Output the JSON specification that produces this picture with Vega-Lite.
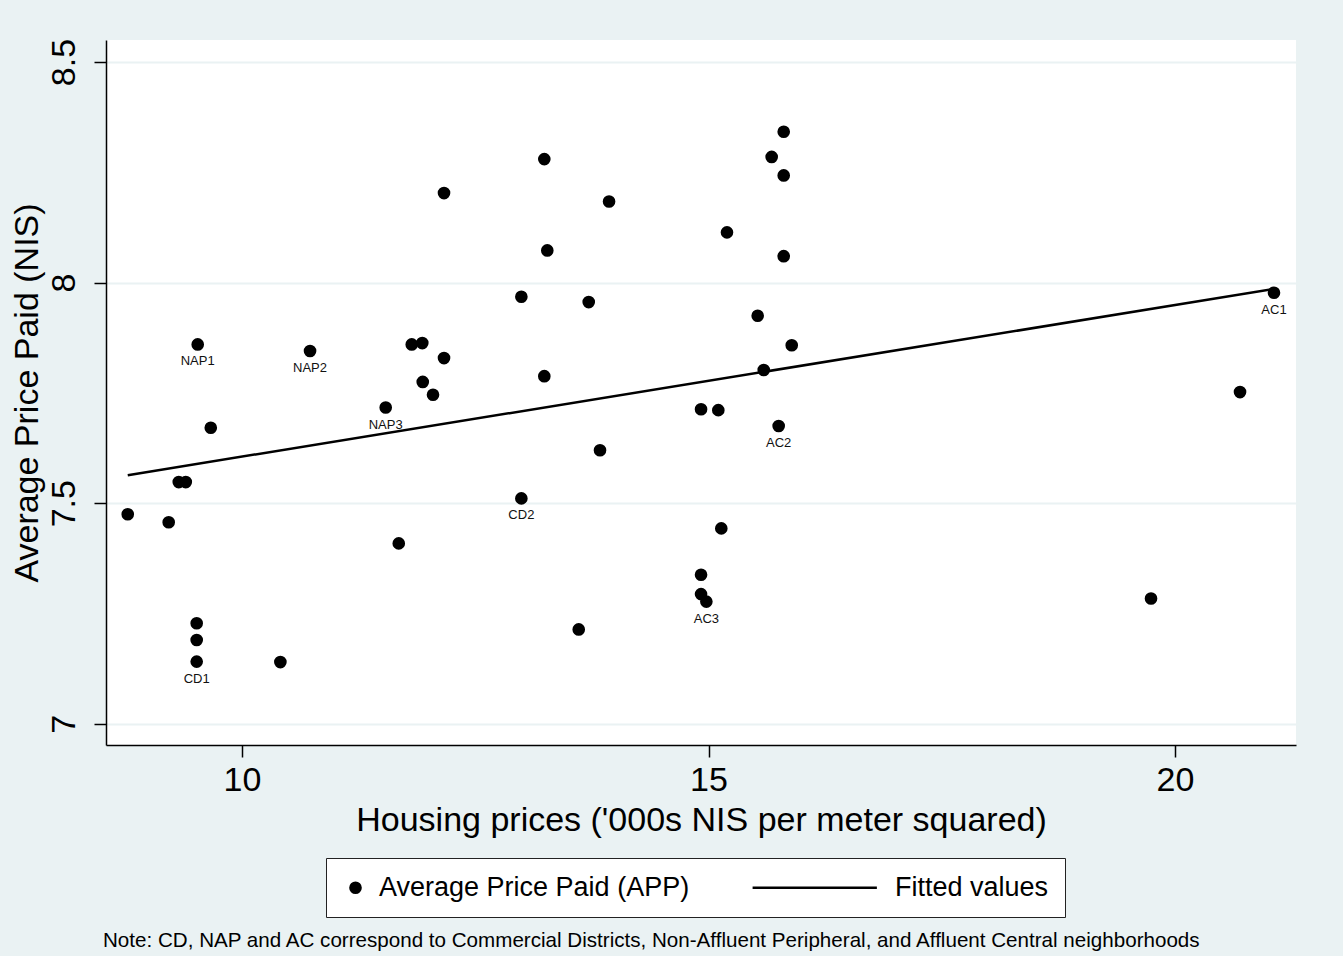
{
  "$schema": "https://vega.github.io/schema/vega-lite/v6.json",
  "width": 1190,
  "height": 705,
  "autosize": {"type": "none"},
  "padding": {"left": 106, "top": 40, "right": 47, "bottom": 211},
  "background": "#EAF2F3",
  "datasets": {
    "pts": [
      {"x": 8.775, "y": 7.475, "label": "", "series": "Average Price Paid (APP)"},
      {"x": 9.214, "y": 7.457, "label": "", "series": "Average Price Paid (APP)"},
      {"x": 9.322, "y": 7.548, "label": "", "series": "Average Price Paid (APP)"},
      {"x": 9.397, "y": 7.548, "label": "", "series": "Average Price Paid (APP)"},
      {"x": 9.525, "y": 7.860, "label": "NAP1", "series": "Average Price Paid (APP)"},
      {"x": 9.665, "y": 7.671, "label": "", "series": "Average Price Paid (APP)"},
      {"x": 9.514, "y": 7.228, "label": "", "series": "Average Price Paid (APP)"},
      {"x": 9.514, "y": 7.190, "label": "", "series": "Average Price Paid (APP)"},
      {"x": 9.514, "y": 7.141, "label": "CD1", "series": "Average Price Paid (APP)"},
      {"x": 10.411, "y": 7.140, "label": "", "series": "Average Price Paid (APP)"},
      {"x": 10.729, "y": 7.845, "label": "NAP2", "series": "Average Price Paid (APP)"},
      {"x": 11.540, "y": 7.717, "label": "NAP3", "series": "Average Price Paid (APP)"},
      {"x": 11.680, "y": 7.409, "label": "", "series": "Average Price Paid (APP)"},
      {"x": 11.819, "y": 7.860, "label": "", "series": "Average Price Paid (APP)"},
      {"x": 11.932, "y": 7.863, "label": "", "series": "Average Price Paid (APP)"},
      {"x": 11.937, "y": 7.775, "label": "", "series": "Average Price Paid (APP)"},
      {"x": 12.047, "y": 7.746, "label": "", "series": "Average Price Paid (APP)"},
      {"x": 12.165, "y": 7.829, "label": "", "series": "Average Price Paid (APP)"},
      {"x": 12.165, "y": 8.203, "label": "", "series": "Average Price Paid (APP)"},
      {"x": 13.240, "y": 8.280, "label": "", "series": "Average Price Paid (APP)"},
      {"x": 13.272, "y": 8.073, "label": "", "series": "Average Price Paid (APP)"},
      {"x": 12.994, "y": 7.968, "label": "", "series": "Average Price Paid (APP)"},
      {"x": 13.240, "y": 7.788, "label": "", "series": "Average Price Paid (APP)"},
      {"x": 12.994, "y": 7.511, "label": "CD2", "series": "Average Price Paid (APP)"},
      {"x": 13.716, "y": 7.956, "label": "", "series": "Average Price Paid (APP)"},
      {"x": 13.934, "y": 8.184, "label": "", "series": "Average Price Paid (APP)"},
      {"x": 13.837, "y": 7.620, "label": "", "series": "Average Price Paid (APP)"},
      {"x": 13.609, "y": 7.214, "label": "", "series": "Average Price Paid (APP)"},
      {"x": 14.920, "y": 7.713, "label": "", "series": "Average Price Paid (APP)"},
      {"x": 15.105, "y": 7.711, "label": "", "series": "Average Price Paid (APP)"},
      {"x": 15.137, "y": 7.443, "label": "", "series": "Average Price Paid (APP)"},
      {"x": 14.920, "y": 7.338, "label": "", "series": "Average Price Paid (APP)"},
      {"x": 14.920, "y": 7.294, "label": "", "series": "Average Price Paid (APP)"},
      {"x": 14.977, "y": 7.277, "label": "AC3", "series": "Average Price Paid (APP)"},
      {"x": 15.198, "y": 8.114, "label": "", "series": "Average Price Paid (APP)"},
      {"x": 15.527, "y": 7.925, "label": "", "series": "Average Price Paid (APP)"},
      {"x": 15.592, "y": 7.802, "label": "", "series": "Average Price Paid (APP)"},
      {"x": 15.677, "y": 8.285, "label": "", "series": "Average Price Paid (APP)"},
      {"x": 15.806, "y": 8.342, "label": "", "series": "Average Price Paid (APP)"},
      {"x": 15.806, "y": 8.243, "label": "", "series": "Average Price Paid (APP)"},
      {"x": 15.806, "y": 8.060, "label": "", "series": "Average Price Paid (APP)"},
      {"x": 15.892, "y": 7.858, "label": "", "series": "Average Price Paid (APP)"},
      {"x": 15.752, "y": 7.675, "label": "AC2", "series": "Average Price Paid (APP)"},
      {"x": 19.743, "y": 7.284, "label": "", "series": "Average Price Paid (APP)"},
      {"x": 20.697, "y": 7.752, "label": "", "series": "Average Price Paid (APP)"},
      {"x": 21.061, "y": 7.977, "label": "AC1", "series": "Average Price Paid (APP)"}
    ],
    "fit": [
      {"x": 8.775, "y": 7.5636},
      {"x": 21.061, "y": 7.9857}
    ]
  },
  "title": {
    "text": "Note: CD, NAP and AC correspond to Commercial Districts, Non-Affluent Peripheral, and Affluent Central neighborhoods",
    "orient": "bottom",
    "anchor": "start",
    "frame": "group",
    "font": "Liberation Sans",
    "fontSize": 20.6,
    "fontWeight": "normal",
    "color": "black",
    "offset": 13,
    "dx": -3
  },
  "encoding": {
    "x": {
      "field": "x",
      "type": "quantitative",
      "scale": {"domain": [8.542, 21.297], "nice": false, "zero": false},
      "axis": {
        "values": [10, 15, 20],
        "format": "~g",
        "grid": false,
        "title": "Housing prices ('000s NIS per meter squared)",
        "labelPadding": 6,
        "titlePadding": 6
      }
    },
    "y": {
      "field": "y",
      "type": "quantitative",
      "scale": {"domain": [6.952, 8.55], "nice": false, "zero": false},
      "axis": {
        "values": [7, 7.5, 8, 8.5],
        "format": "~g",
        "grid": true,
        "title": "Average Price Paid (NIS)",
        "labelAngle": 270,
        "labelAlign": "center",
        "labelBaseline": "bottom",
        "labelPadding": 13,
        "titlePadding": 3
      }
    }
  },
  "layer": [
    {
      "data": {"name": "pts"},
      "mark": {"type": "point", "filled": true, "color": "black", "opacity": 1, "size": 160},
      "encoding": {
        "shape": {
          "field": "series",
          "type": "nominal",
          "scale": {
            "domain": ["Average Price Paid (APP)", "Fitted values"],
            "range": ["circle", "M-18.8,-0.2L0.85,-0.2L0.85,0.2L-18.8,0.2Z"]
          },
          "legend": {
            "orient": "none",
            "legendX": 220,
            "legendY": 818,
            "direction": "horizontal",
            "title": null,
            "padding": 16,
            "fillColor": "white",
            "strokeColor": "#222222",
            "labelFont": "Liberation Sans",
            "labelFontSize": 27,
            "labelColor": "black",
            "labelLimit": 0,
            "labelOffset": 10,
            "columnPadding": 62,
            "symbolSize": 160,
            "symbolFillColor": "black",
            "symbolStrokeWidth": 0,
            "symbolOpacity": 1
          }
        }
      }
    },
    {
      "data": {"name": "fit"},
      "mark": {"type": "line", "color": "black", "strokeWidth": 2.5}
    },
    {
      "data": {"name": "pts"},
      "transform": [{"filter": "datum.label != ''"}],
      "mark": {"type": "text", "font": "Liberation Sans", "fontSize": 13, "color": "#111111", "dy": 17, "align": "center", "baseline": "middle"},
      "encoding": {"text": {"field": "label"}}
    }
  ],
  "config": {
    "view": {"fill": "white", "stroke": null},
    "font": "Liberation Sans",
    "axis": {
      "domainColor": "black",
      "domainWidth": 1.5,
      "tickColor": "black",
      "tickWidth": 1.5,
      "tickSize": 12,
      "labelFont": "Liberation Sans",
      "labelFontSize": 34,
      "labelColor": "black",
      "titleFont": "Liberation Sans",
      "titleFontSize": 34,
      "titleFontWeight": "normal",
      "titleColor": "black",
      "gridColor": "#EAF2F3",
      "gridWidth": 2
    }
  }
}
